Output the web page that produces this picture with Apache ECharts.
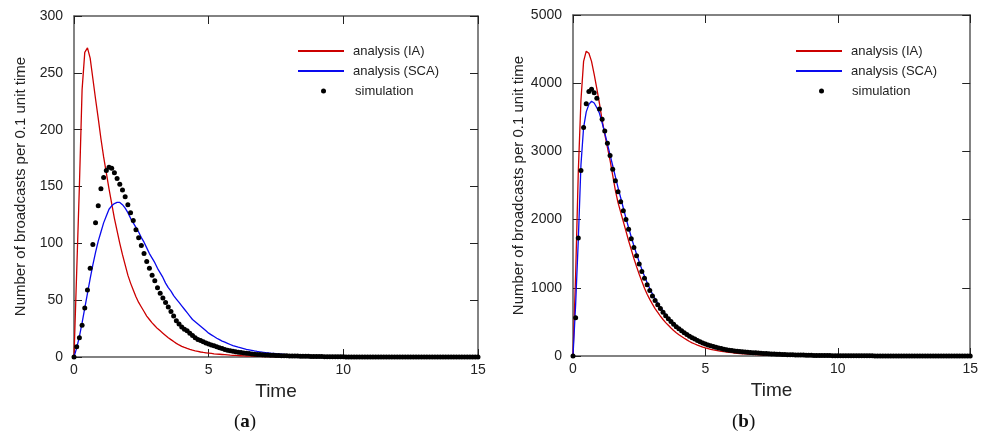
<!DOCTYPE html>
<html>
<head>
<meta charset="utf-8">
<script src="https://cdn.jsdelivr.net/npm/echarts@6/dist/echarts.min.js"></script>
<style>
  html, body { margin: 0; padding: 0; background: #fff; }
  #chart { width: 981px; height: 436px; }
</style>
</head>
<body>
<div id="chart"></div>
<script>
// samples are taken every 0.1 time unit, from 0 to 15
const timeStep = 0.1;

// panel (a)
const iaA = [
  0, 75, 150, 235, 268, 272, 263, 245, 227, 210,
  192, 176, 162, 148, 135, 122, 111, 100, 90, 81,
  72, 65, 59, 53, 48, 44, 40, 36, 33, 30,
  27.5, 25, 23, 21, 19, 17, 15.3, 13.6, 12, 10.6,
  9.4, 8.4, 7.5, 6.7, 6, 5.4, 4.9, 4.4, 4, 3.7,
  3.4, 3.1, 2.8, 2.6, 2.4, 2.2, 2, 1.8, 1.6, 1.5,
  1.4, 1.2, 1.1, 1, 0.9, 0.8, 0.7, 0.6, 0.5, 0.5,
  0.4, 0.4, 0.3, 0.3, 0.3, 0.2, 0.2, 0.2, 0.2, 0.1,
  0.1, 0.1, 0.1, 0.1, 0.1, 0, 0, 0, 0, 0,
  0, 0, 0, 0, 0, 0, 0, 0, 0, 0,
  0, 0, 0, 0, 0, 0, 0, 0, 0, 0,
  0, 0, 0, 0, 0, 0, 0, 0, 0, 0,
  0, 0, 0, 0, 0, 0, 0, 0, 0, 0,
  0, 0, 0, 0, 0, 0, 0, 0, 0, 0,
  0, 0, 0, 0, 0, 0, 0, 0, 0, 0,
  0
];
const scaA = [
  0, 8, 18, 30, 43, 56, 69, 81, 92, 102,
  110, 118, 124, 130, 133, 135, 136, 136, 134, 131,
  127, 122, 118, 114, 110, 105, 101, 96, 91, 87,
  83, 78, 74, 70, 65, 61, 58, 54, 51, 48,
  45, 42, 39, 36, 33, 31, 29, 27, 25, 23,
  21, 19.5, 18, 16.5, 15.3, 14, 13, 12, 11, 10,
  9.3, 8.6, 8, 7.4, 6.8, 6.3, 5.8, 5.3, 4.9, 4.6,
  4.2, 3.9, 3.6, 3.3, 3.1, 2.9, 2.7, 2.5, 2.3, 2.1,
  2, 1.8, 1.7, 1.6, 1.5, 1.4, 1.3, 1.2, 1.1, 1,
  0.9, 0.8, 0.8, 0.7, 0.7, 0.6, 0.6, 0.5, 0.5, 0.5,
  0.4, 0.4, 0.4, 0.3, 0.3, 0.3, 0.3, 0.2, 0.2, 0.2,
  0.2, 0.2, 0.1, 0.1, 0.1, 0.1, 0.1, 0.1, 0.1, 0.1,
  0, 0, 0, 0, 0, 0, 0, 0, 0, 0,
  0, 0, 0, 0, 0, 0, 0, 0, 0, 0,
  0, 0, 0, 0, 0, 0, 0, 0, 0, 0,
  0
];
const simA = [
  0, 9, 17, 28, 43, 59, 78, 99, 118, 133,
  148, 158, 164, 167, 166, 162, 157, 152, 147, 141,
  134, 127, 120, 112, 105, 98, 91, 84, 78, 72,
  67, 61, 56, 52, 48, 44, 40, 36, 32, 29,
  26.5, 24.5, 23, 21, 19, 17, 15.5, 14.5, 13.5, 12.3,
  11.5, 10.6, 9.8, 9, 8.2, 7.4, 6.6, 6, 5.5, 5,
  4.6, 4.2, 3.9, 3.5, 3.2, 3, 2.7, 2.5, 2.3, 2.1,
  1.9, 1.8, 1.7, 1.6, 1.5, 1.4, 1.3, 1.2, 1.1, 1,
  0.9, 0.9, 0.8, 0.8, 0.7, 0.7, 0.6, 0.6, 0.5, 0.5,
  0.4, 0.4, 0.4, 0.3, 0.3, 0.3, 0.3, 0.2, 0.2, 0.2,
  0.2, 0.1, 0.1, 0.1, 0.1, 0.1, 0.1, 0.1, 0.1, 0.1,
  0, 0, 0, 0, 0, 0, 0, 0, 0, 0,
  0, 0, 0, 0, 0, 0, 0, 0, 0, 0,
  0, 0, 0, 0, 0, 0, 0, 0, 0, 0,
  0, 0, 0, 0, 0, 0, 0, 0, 0, 0,
  0
];

// panel (b)
const iaB = [
  0, 1200, 2700, 3750, 4320, 4470, 4440, 4320, 4130, 3920,
  3700, 3460, 3250, 3060, 2870, 2650, 2430, 2250, 2110, 1970,
  1830, 1690, 1560, 1430, 1310, 1200, 1095, 995, 905, 830,
  760, 695, 640, 585, 535, 490, 450, 410, 375, 342,
  312, 285, 260, 236, 213, 192, 176, 160, 145, 131,
  118, 108, 98, 90, 82, 75, 69, 63, 58, 53,
  48, 44, 40, 36, 33, 30, 27, 25, 23, 21,
  19, 17, 15, 14, 13, 12, 11, 10, 9, 8,
  7, 6, 6, 5, 5, 4, 4, 3, 3, 3,
  2, 2, 2, 2, 1, 1, 1, 1, 1, 1,
  0, 0, 0, 0, 0, 0, 0, 0, 0, 0,
  0, 0, 0, 0, 0, 0, 0, 0, 0, 0,
  0, 0, 0, 0, 0, 0, 0, 0, 0, 0,
  0, 0, 0, 0, 0, 0, 0, 0, 0, 0,
  0, 0, 0, 0, 0, 0, 0, 0, 0, 0,
  0
];
const scaB = [
  0, 760, 1700, 2800, 3350, 3580, 3690, 3735, 3710, 3640,
  3560, 3420, 3270, 3110, 2950, 2790, 2630, 2470, 2320, 2170,
  2020, 1880, 1745, 1615, 1495, 1380, 1270, 1170, 1075, 990,
  910, 840, 775, 715, 660, 607, 560, 515, 475, 440,
  405, 372, 342, 315, 290, 267, 246, 227, 209, 193,
  178, 164, 151, 140, 129, 119, 110, 102, 94, 87,
  80, 74, 68, 63, 58, 54, 50, 46, 43, 40,
  37, 34, 32, 30, 28, 26, 24, 22, 20, 19,
  18, 17, 16, 15, 14, 13, 12, 11, 10, 9,
  8, 8, 7, 7, 6, 6, 5, 5, 5, 4,
  4, 4, 3, 3, 3, 3, 2, 2, 2, 2,
  2, 2, 1, 1, 1, 1, 1, 1, 1, 1,
  0, 0, 0, 0, 0, 0, 0, 0, 0, 0,
  0, 0, 0, 0, 0, 0, 0, 0, 0, 0,
  0, 0, 0, 0, 0, 0, 0, 0, 0, 0,
  0
];
const simB = [
  0, 560, 1730, 2720, 3350, 3700, 3880, 3910, 3860, 3780,
  3620, 3470, 3300, 3120, 2940, 2740, 2570, 2410, 2260, 2130,
  2000, 1860, 1720, 1590, 1470, 1350, 1240, 1140, 1045, 960,
  880, 815, 750, 695, 640, 590, 545, 505, 465, 430,
  400, 370, 340, 315, 290, 268, 248, 228, 210, 192,
  176, 163, 150, 139, 128, 118, 109, 100, 93, 86,
  80, 75, 70, 66, 62, 58, 55, 52, 49, 46,
  43, 40, 38, 35, 33, 31, 29, 27, 25, 23,
  22, 20, 19, 17, 16, 15, 14, 13, 12, 11,
  10, 9, 9, 8, 7, 7, 6, 6, 5, 5,
  5, 4, 4, 4, 3, 3, 3, 3, 2, 2,
  2, 2, 2, 2, 1, 1, 1, 1, 1, 1,
  1, 1, 1, 1, 1, 0, 0, 0, 0, 0,
  0, 0, 0, 0, 0, 0, 0, 0, 0, 0,
  0, 0, 0, 0, 0, 0, 0, 0, 0, 0,
  0
];

const yTitle = "Number of broadcasts per 0.1 unit time";
const seriesNames = ["analysis (IA)", "analysis (SCA)", "simulation"];

const RED = "#cc0000";
const BLUE = "#0a0aee";
const FONT = "Liberation Sans";

function toPairs(values) {
  return values.map((v, i) => [Math.round(i * timeStep * 10) / 10, v]);
}

const frame = { onZero: false, lineStyle: { color: "#5a5a5a", width: 1.5 } };
const ticks = { inside: true, length: 8, lineStyle: { color: "#222", width: 1 } };

function xAxes(gridIndex) {
  return [
    {
      gridIndex: gridIndex,
      type: "value",
      min: 0,
      max: 15,
      interval: 5,
      name: "Time",
      nameLocation: "middle",
      nameGap: 15,
      nameTextStyle: { fontFamily: FONT, fontSize: 19, color: "#222" },
      axisLine: frame,
      axisTick: ticks,
      splitLine: { show: false },
      axisLabel: { fontFamily: FONT, fontSize: 14, color: "#222", margin: 6 }
    },
    {
      gridIndex: gridIndex,
      type: "value",
      position: "top",
      min: 0,
      max: 15,
      interval: 5,
      axisLine: frame,
      axisTick: ticks,
      splitLine: { show: false },
      axisLabel: { show: false }
    }
  ];
}

function yAxes(gridIndex, max, interval, gap) {
  return [
    {
      gridIndex: gridIndex,
      type: "value",
      position: "left",
      min: 0,
      max: max,
      interval: interval,
      name: yTitle,
      nameLocation: "middle",
      nameGap: gap,
      nameTextStyle: { fontFamily: FONT, fontSize: 15, color: "#222" },
      axisLine: frame,
      axisTick: ticks,
      splitLine: { show: false },
      axisLabel: {
        fontFamily: FONT,
        fontSize: 14,
        color: "#222",
        margin: 11,
        formatter: (v) => String(v)
      }
    },
    {
      gridIndex: gridIndex,
      type: "value",
      position: "right",
      min: 0,
      max: max,
      interval: interval,
      axisLine: frame,
      axisTick: ticks,
      splitLine: { show: false },
      axisLabel: { show: false }
    }
  ];
}

function panelSeries(axisIndex, ia, sca, sim) {
  return [
    {
      name: seriesNames[0],
      type: "line",
      xAxisIndex: axisIndex,
      yAxisIndex: axisIndex,
      data: toPairs(ia),
      showSymbol: false,
      color: RED,
      lineStyle: { width: 1.3, color: RED }
    },
    {
      name: seriesNames[1],
      type: "line",
      xAxisIndex: axisIndex,
      yAxisIndex: axisIndex,
      data: toPairs(sca),
      showSymbol: false,
      color: BLUE,
      lineStyle: { width: 1.3, color: BLUE }
    },
    {
      name: seriesNames[2],
      type: "scatter",
      xAxisIndex: axisIndex,
      yAxisIndex: axisIndex,
      data: toPairs(sim),
      symbol: "circle",
      symbolSize: 5,
      color: "#000",
      itemStyle: { color: "#000", opacity: 1 },
      z: 5
    }
  ];
}

function legends(lineLeft, dotLeft, textShift, dotShift) {
  const txt = { fontFamily: FONT, fontSize: 13, color: "#222", lineHeight: 14 };
  return [
    {
      orient: "vertical",
      left: lineLeft,
      top: 44,
      padding: 0,
      itemWidth: 46,
      itemHeight: 2,
      itemGap: 6,
      selectedMode: false,
      data: [
        { name: seriesNames[0], icon: "rect" },
        { name: seriesNames[1], icon: "rect" }
      ],
      textStyle: Object.assign({ padding: [0, 0, 0, textShift] }, txt)
    },
    {
      orient: "vertical",
      left: dotLeft,
      top: 84,
      padding: 0,
      itemWidth: 5,
      itemHeight: 5,
      selectedMode: false,
      data: [{ name: seriesNames[2], icon: "circle", itemStyle: { opacity: 1 } }],
      textStyle: Object.assign({ padding: [0, 0, 0, dotShift] }, txt)
    }
  ];
}

function panelLabel(letter, x) {
  return {
    type: "text",
    left: x - 14,
    top: 413,
    style: {
      text: "{p|(}{b|" + letter + "}{p|)}",
      rich: {
        p: { fontFamily: "Liberation Serif", fontSize: 19, fill: "#111", color: "#111" },
        b: { fontFamily: "Liberation Serif", fontSize: 19, fontWeight: "bold", fill: "#111", color: "#111" }
      }
    }
  };
}

const chart = echarts.init(document.getElementById("chart"));

chart.setOption({
  animation: false,
  backgroundColor: "#fff",
  grid: [
    { left: 74, top: 16, width: 404, height: 341 },
    { left: 573, top: 15, width: 401, height: 341 }
  ],
  xAxis: xAxes(0).concat(xAxes(1)),
  yAxis: yAxes(0, 300, 50, 46).concat(yAxes(1, 5000, 1000, 47)),
  legend: legends(298, 321, 4, 24).concat(legends(796, 819, 4, 23)),
  series: panelSeries(0, iaA, scaA, simA).concat(panelSeries(2, iaB, scaB, simB)),
  graphic: [panelLabel("a", 248), panelLabel("b", 746)]
});
</script>
</body>
</html>
